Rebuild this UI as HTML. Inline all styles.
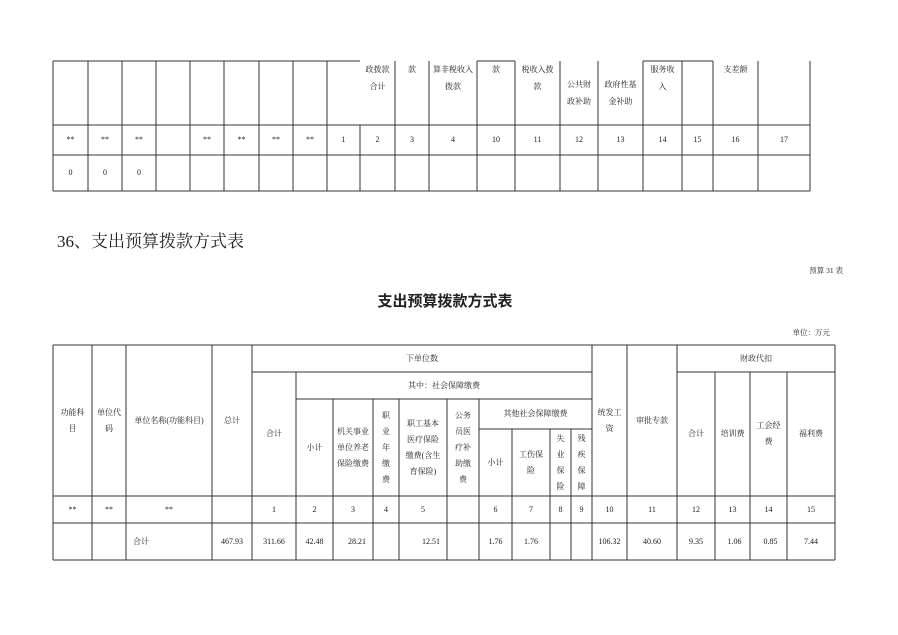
<!DOCTYPE html>
<html><head><meta charset="utf-8">
<style>
html,body{margin:0;padding:0;background:#fff;}
body{width:898px;height:635px;position:relative;overflow:hidden;font-family:"Liberation Serif","Noto Serif CJK SC",serif;color:#222;}
.c{position:absolute;display:flex;align-items:center;justify-content:center;text-align:center;font-size:8px;line-height:16px;}
.t{position:absolute;display:flex;justify-content:center;text-align:center;font-size:8px;line-height:17px;}
svg{position:absolute;left:0;top:0;}
</style></head><body>
<svg width="898" height="635" stroke="#333" stroke-width="1" shape-rendering="crispEdges">
<!-- top table -->
<line x1="53" y1="61" x2="360" y2="61"/>
<line x1="477" y1="61" x2="515" y2="61"/>
<line x1="643" y1="61" x2="713" y2="61"/>
<line x1="53" y1="125" x2="810" y2="125"/>
<line x1="53" y1="155" x2="810" y2="155"/>
<line x1="53" y1="191" x2="810" y2="191"/>
<g>
<line x1="53" y1="61" x2="53" y2="191"/><line x1="88" y1="61" x2="88" y2="191"/><line x1="122" y1="61" x2="122" y2="191"/><line x1="156" y1="61" x2="156" y2="191"/><line x1="190" y1="61" x2="190" y2="191"/><line x1="224" y1="61" x2="224" y2="191"/><line x1="259" y1="61" x2="259" y2="191"/><line x1="293" y1="61" x2="293" y2="191"/><line x1="327" y1="61" x2="327" y2="191"/>
<line x1="360" y1="125" x2="360" y2="191"/>
<line x1="395" y1="61" x2="395" y2="191"/><line x1="429" y1="61" x2="429" y2="191"/><line x1="477" y1="61" x2="477" y2="191"/><line x1="515" y1="61" x2="515" y2="191"/><line x1="560" y1="61" x2="560" y2="191"/><line x1="598" y1="61" x2="598" y2="191"/><line x1="643" y1="61" x2="643" y2="191"/><line x1="682" y1="61" x2="682" y2="191"/><line x1="713" y1="61" x2="713" y2="191"/><line x1="758" y1="61" x2="758" y2="191"/><line x1="810" y1="61" x2="810" y2="191"/>
</g>
<!-- bottom table -->
<line x1="53" y1="345" x2="835" y2="345"/>
<line x1="252" y1="372" x2="592" y2="372"/>
<line x1="677" y1="372" x2="835" y2="372"/>
<line x1="296" y1="399" x2="592" y2="399"/>
<line x1="479" y1="429" x2="592" y2="429"/>
<line x1="53" y1="496" x2="835" y2="496"/>
<line x1="53" y1="523" x2="835" y2="523"/>
<line x1="53" y1="560" x2="835" y2="560"/>
<line x1="53" y1="345" x2="53" y2="560"/><line x1="92" y1="345" x2="92" y2="560"/><line x1="126" y1="345" x2="126" y2="560"/><line x1="212" y1="345" x2="212" y2="560"/><line x1="252" y1="345" x2="252" y2="560"/>
<line x1="296" y1="372" x2="296" y2="560"/>
<line x1="333" y1="399" x2="333" y2="560"/><line x1="373" y1="399" x2="373" y2="560"/><line x1="399" y1="399" x2="399" y2="560"/><line x1="447" y1="399" x2="447" y2="560"/><line x1="479" y1="399" x2="479" y2="560"/>
<line x1="512" y1="429" x2="512" y2="560"/><line x1="550" y1="429" x2="550" y2="560"/><line x1="571" y1="429" x2="571" y2="560"/>
<line x1="592" y1="345" x2="592" y2="560"/><line x1="627" y1="345" x2="627" y2="560"/><line x1="677" y1="345" x2="677" y2="560"/>
<line x1="715" y1="372" x2="715" y2="560"/><line x1="750" y1="372" x2="750" y2="560"/><line x1="787" y1="372" x2="787" y2="560"/>
<line x1="835" y1="345" x2="835" y2="560"/>
</svg>

<!-- top table header text -->
<div class="t" style="left:360px;top:61px;width:35px;">政拨款<br>合计</div>
<div class="t" style="left:395px;top:61px;width:34px;">款</div>
<div class="t" style="left:429px;top:61px;width:48px;">算非税收入<br>拨款</div>
<div class="t" style="left:477px;top:61px;width:38px;">款</div>
<div class="t" style="left:515px;top:61px;width:45px;">税收入拨<br>款</div>
<div class="t" style="left:560px;top:76px;width:38px;">公共财<br>政补助</div>
<div class="t" style="left:598px;top:76px;width:45px;">政府性基<br>金补助</div>
<div class="t" style="left:643px;top:61px;width:39px;">服务收<br>入</div>
<div class="t" style="left:713px;top:61px;width:45px;">支差额</div>
<!-- top row 2 -->
<div class="c" style="left:53px;top:125px;width:35px;height:30px;">**</div>
<div class="c" style="left:88px;top:125px;width:34px;height:30px;">**</div>
<div class="c" style="left:122px;top:125px;width:34px;height:30px;">**</div>
<div class="c" style="left:190px;top:125px;width:34px;height:30px;">**</div>
<div class="c" style="left:224px;top:125px;width:35px;height:30px;">**</div>
<div class="c" style="left:259px;top:125px;width:34px;height:30px;">**</div>
<div class="c" style="left:293px;top:125px;width:34px;height:30px;">**</div>
<div class="c" style="left:327px;top:125px;width:33px;height:30px;">1</div>
<div class="c" style="left:360px;top:125px;width:35px;height:30px;">2</div>
<div class="c" style="left:395px;top:125px;width:34px;height:30px;">3</div>
<div class="c" style="left:429px;top:125px;width:48px;height:30px;">4</div>
<div class="c" style="left:477px;top:125px;width:38px;height:30px;">10</div>
<div class="c" style="left:515px;top:125px;width:45px;height:30px;">11</div>
<div class="c" style="left:560px;top:125px;width:38px;height:30px;">12</div>
<div class="c" style="left:598px;top:125px;width:45px;height:30px;">13</div>
<div class="c" style="left:643px;top:125px;width:39px;height:30px;">14</div>
<div class="c" style="left:682px;top:125px;width:31px;height:30px;">15</div>
<div class="c" style="left:713px;top:125px;width:45px;height:30px;">16</div>
<div class="c" style="left:758px;top:125px;width:52px;height:30px;">17</div>
<div class="c" style="left:53px;top:155px;width:35px;height:36px;">0</div>
<div class="c" style="left:88px;top:155px;width:34px;height:36px;">0</div>
<div class="c" style="left:122px;top:155px;width:34px;height:36px;">0</div>

<!-- headings -->
<div style="position:absolute;left:57px;top:230px;font-size:17px;line-height:24px;white-space:nowrap;">36、支出预算拨款方式表</div>
<div style="position:absolute;right:55px;top:265px;font-size:7.5px;line-height:12px;">预算 31 表</div>
<div style="position:absolute;left:0;width:890px;top:292px;text-align:center;font-family:'Liberation Sans','Noto Sans CJK SC',sans-serif;font-weight:bold;font-size:15px;line-height:20px;">支出预算拨款方式表</div>
<div style="position:absolute;right:68px;top:327px;font-size:7.5px;line-height:12px;">单位：万元</div>

<!-- bottom table header -->
<div class="c" style="left:53px;top:345px;width:39px;height:151px;">功能科<br>目</div>
<div class="c" style="left:92px;top:345px;width:34px;height:151px;">单位代<br>码</div>
<div class="c" style="left:126px;top:345px;width:86px;height:151px;">单位名称(功能科目)</div>
<div class="c" style="left:212px;top:345px;width:40px;height:151px;">总计</div>
<div class="c" style="left:252px;top:345px;width:340px;height:27px;">下单位数</div>
<div class="c" style="left:252px;top:372px;width:44px;height:124px;">合计</div>
<div class="c" style="left:296px;top:372px;width:296px;height:27px;">其中：社会保障缴费</div>
<div class="c" style="left:296px;top:399px;width:37px;height:97px;">小计</div>
<div class="c" style="left:333px;top:399px;width:40px;height:97px;">机关事业<br>单位养老<br>保险缴费</div>
<div class="c" style="left:373px;top:399px;width:26px;height:97px;">职<br>业<br>年<br>缴<br>费</div>
<div class="c" style="left:399px;top:399px;width:48px;height:97px;">职工基本<br>医疗保险<br>缴费(含生<br>育保险)</div>
<div class="c" style="left:447px;top:399px;width:32px;height:97px;">公务<br>员医<br>疗补<br>助缴<br>费</div>
<div class="c" style="left:479px;top:399px;width:113px;height:30px;">其他社会保障缴费</div>
<div class="c" style="left:479px;top:429px;width:33px;height:67px;">小计</div>
<div class="c" style="left:512px;top:429px;width:38px;height:67px;">工伤保<br>险</div>
<div class="c" style="left:550px;top:429px;width:21px;height:67px;">失<br>业<br>保<br>险</div>
<div class="c" style="left:571px;top:429px;width:21px;height:67px;">残<br>疾<br>保<br>障</div>
<div class="c" style="left:592px;top:345px;width:35px;height:151px;">统发工<br>资</div>
<div class="c" style="left:627px;top:345px;width:50px;height:151px;">审批专款</div>
<div class="c" style="left:677px;top:345px;width:158px;height:27px;">财政代扣</div>
<div class="c" style="left:677px;top:372px;width:38px;height:124px;">合计</div>
<div class="c" style="left:715px;top:372px;width:35px;height:124px;">培训费</div>
<div class="c" style="left:750px;top:372px;width:37px;height:124px;">工会经<br>费</div>
<div class="c" style="left:787px;top:372px;width:48px;height:124px;">福利费</div>
<!-- numbers row -->
<div class="c" style="left:53px;top:496px;width:39px;height:27px;">**</div>
<div class="c" style="left:92px;top:496px;width:34px;height:27px;">**</div>
<div class="c" style="left:126px;top:496px;width:86px;height:27px;">**</div>
<div class="c" style="left:252px;top:496px;width:44px;height:27px;">1</div>
<div class="c" style="left:296px;top:496px;width:37px;height:27px;">2</div>
<div class="c" style="left:333px;top:496px;width:40px;height:27px;">3</div>
<div class="c" style="left:373px;top:496px;width:26px;height:27px;">4</div>
<div class="c" style="left:399px;top:496px;width:48px;height:27px;">5</div>
<div class="c" style="left:479px;top:496px;width:33px;height:27px;">6</div>
<div class="c" style="left:512px;top:496px;width:38px;height:27px;">7</div>
<div class="c" style="left:550px;top:496px;width:21px;height:27px;">8</div>
<div class="c" style="left:571px;top:496px;width:21px;height:27px;">9</div>
<div class="c" style="left:592px;top:496px;width:35px;height:27px;">10</div>
<div class="c" style="left:627px;top:496px;width:50px;height:27px;">11</div>
<div class="c" style="left:677px;top:496px;width:38px;height:27px;">12</div>
<div class="c" style="left:715px;top:496px;width:35px;height:27px;">13</div>
<div class="c" style="left:750px;top:496px;width:37px;height:27px;">14</div>
<div class="c" style="left:787px;top:496px;width:48px;height:27px;">15</div>
<!-- data row -->
<div class="c" style="left:133px;top:523px;height:37px;justify-content:flex-start;">合计</div>
<div class="c" style="left:212px;top:523px;width:40px;height:37px;">467.93</div>
<div class="c" style="left:252px;top:523px;width:44px;height:37px;">311.66</div>
<div class="c" style="left:296px;top:523px;width:37px;height:37px;">42.48</div>
<div class="c" style="left:337px;top:523px;width:40px;height:37px;">28.21</div>
<div class="c" style="left:407px;top:523px;width:48px;height:37px;">12.51</div>
<div class="c" style="left:479px;top:523px;width:33px;height:37px;">1.76</div>
<div class="c" style="left:512px;top:523px;width:38px;height:37px;">1.76</div>
<div class="c" style="left:592px;top:523px;width:35px;height:37px;">106.32</div>
<div class="c" style="left:627px;top:523px;width:50px;height:37px;">40.60</div>
<div class="c" style="left:677px;top:523px;width:38px;height:37px;">9.35</div>
<div class="c" style="left:717px;top:523px;width:35px;height:37px;">1.06</div>
<div class="c" style="left:752px;top:523px;width:37px;height:37px;">0.85</div>
<div class="c" style="left:787px;top:523px;width:48px;height:37px;">7.44</div>
</body></html>
